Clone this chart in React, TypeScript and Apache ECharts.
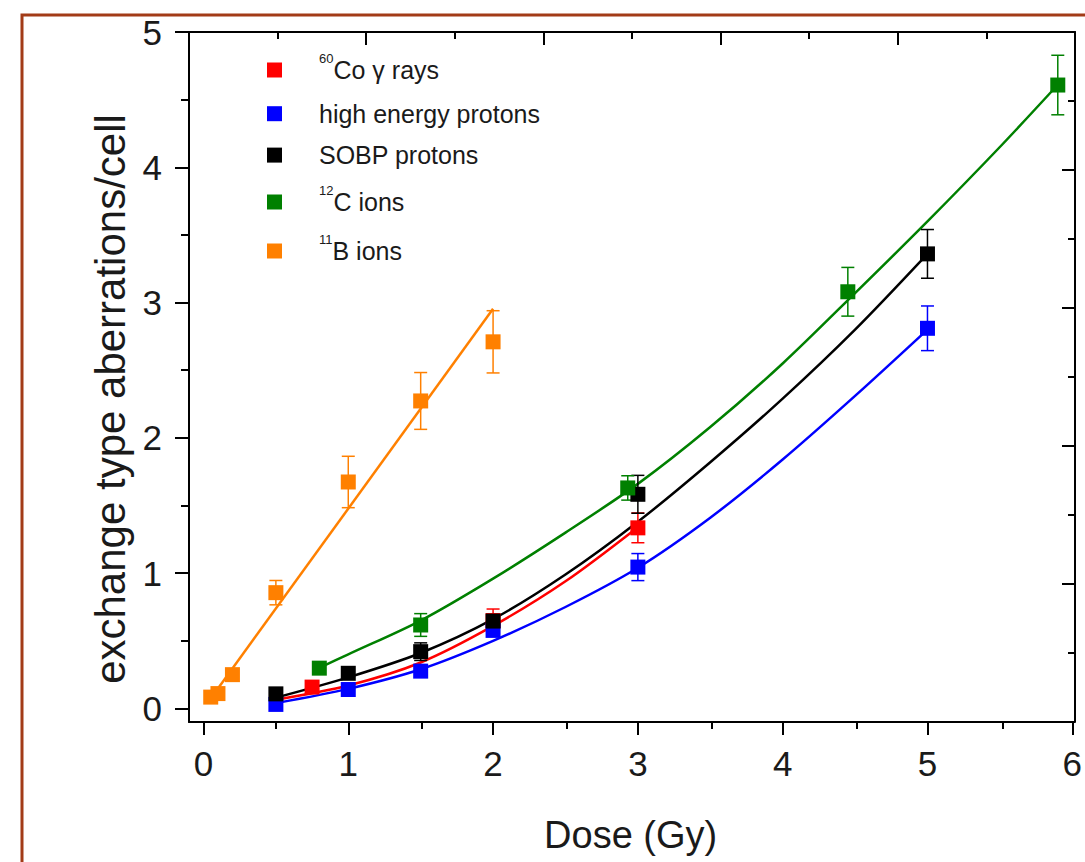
import React, { useEffect, useRef } from "react";
import * as echarts from "echarts";

const FONT = '"Liberation Sans", Arial, Helvetica, sans-serif';
const TEXT = "#1a1a1a";

// axis ticks
const xTicks = [0, 1, 2, 3, 4, 5, 6];
const xMinorTicks = [0.5, 1.5, 2.5, 3.5, 4.5, 5.5];
const yTicks = [0, 1, 2, 3, 4, 5];
const yMinorTicks = [0.5, 1.5, 2.5, 3.5, 4.5];

// 60Co gamma rays
const coDose = [0.75, 2.0, 3.0];
const coValue = [0.158, 0.65, 1.335];
const coError = [0.02, 0.085, 0.11];
const coFitDose = [0.5, 1, 1.5, 2, 2.5, 3];
const coFitValue = [0.065, 0.17, 0.34, 0.61, 0.94, 1.34];

// high energy protons
const hepDose = [0.5, 1, 1.5, 2, 3, 5];
const hepValue = [0.03, 0.14, 0.276, 0.577, 1.045, 2.81];
const hepError = [0.02, 0.02, 0.03, 0.04, 0.1, 0.165];
const hepFitDose = [0.5, 1, 1.5, 2, 2.5, 3, 3.5, 4, 4.5, 5];
const hepFitValue = [0.04, 0.145, 0.29, 0.5, 0.75, 1.04, 1.41, 1.84, 2.31, 2.8];

// SOBP protons
const sobpDose = [0.5, 1, 1.5, 2, 3, 5];
const sobpValue = [0.108, 0.26, 0.42, 0.646, 1.583, 3.36];
const sobpError = [0.02, 0.03, 0.065, 0.05, 0.14, 0.18];
const sobpFitDose = [0.5, 1, 1.5, 2, 2.5, 3, 3.5, 4, 4.5, 5];
const sobpFitValue = [0.08, 0.23, 0.41, 0.66, 0.99, 1.38, 1.82, 2.29, 2.8, 3.36];

// 12C ions
const cDose = [0.8, 1.5, 2.93, 4.45, 5.9];
const cValue = [0.298, 0.617, 1.63, 3.08, 4.608];
const cError = [0.03, 0.084, 0.09, 0.18, 0.22];
const cFitDose = [0.8, 1, 1.5, 2, 2.5, 3, 3.5, 4, 4.5, 5, 5.5, 5.9];
const cFitValue = [0.3, 0.4, 0.65, 0.96, 1.3, 1.66, 2.08, 2.55, 3.07, 3.6, 4.15, 4.61];

// 11B ions
const bDose = [0.05, 0.1, 0.2, 0.5, 1.0, 1.5, 2.0];
const bValue = [0.084, 0.11, 0.25, 0.856, 1.674, 2.273, 2.71];
const bError = [0.02, 0.02, 0.03, 0.09, 0.19, 0.21, 0.23];
const bFitDose = [0.05, 2.0];
const bFitValue = [0.074, 2.954];

const legendNames = ["60Co γ rays", "high energy protons", "SOBP protons", "12C ions", "11B ions"];
const legendRich = [
  "{gap| }{sup|60}{main|Co γ rays}",
  "{gap| }{main|high energy protons}",
  "{gap| }{main|SOBP protons}",
  "{gap| }{sup|12}{main|C ions}",
  "{gap| }{sup|11}{main|B ions}",
];
const legendCenters = [70, 112.6, 154, 202, 251];
const legendHasSup = [true, false, false, true, true];

const groups = [
  { name: legendNames[0], color: "#FF0000", dose: coDose, value: coValue, err: coError, fx: coFitDose, fy: coFitValue },
  { name: legendNames[1], color: "#0000FF", dose: hepDose, value: hepValue, err: hepError, fx: hepFitDose, fy: hepFitValue },
  { name: legendNames[2], color: "#000000", dose: sobpDose, value: sobpValue, err: sobpError, fx: sobpFitDose, fy: sobpFitValue },
  { name: legendNames[3], color: "#008000", dose: cDose, value: cValue, err: cError, fx: cFitDose, fy: cFitValue },
  { name: legendNames[4], color: "#FF8000", dose: bDose, value: bValue, err: bError, fx: bFitDose, fy: bFitValue },
];

export default function App() {
  const ref = useRef<HTMLDivElement>(null);

  useEffect(() => {
    if (!ref.current) return;
    const chart = echarts.init(ref.current, undefined, { renderer: "svg" });

    const black = { color: "#000", width: 2 };
    const gridBox = { left: 189, top: 32, right: 10, bottom: 140, containLabel: false };

    const series: any[] = [];
    groups.forEach((g) => {
      series.push({
        type: "line",
        name: g.name + " fit",
        xAxisIndex: 0,
        yAxisIndex: 0,
        data: g.fx.map((x, i) => [x, g.fy[i]]),
        smooth: 0.3,
        showSymbol: false,
        symbol: "none",
        lineStyle: { color: g.color, width: 2.5 },
        z: 2,
      });
      series.push({
        type: "custom",
        name: g.name + " err",
        xAxisIndex: 0,
        yAxisIndex: 0,
        data: g.dose.map((x, i) => [x, g.value[i], g.err[i]]),
        encode: { x: 0, y: 1 },
        renderItem: (params: any, api: any) => {
          const x = api.value(0);
          const y = api.value(1);
          const e = api.value(2);
          const top = api.coord([x, y + e]);
          const bot = api.coord([x, y - e]);
          const w = 6.5;
          const style = { stroke: g.color, lineWidth: 1.5 };
          return {
            type: "group",
            children: [
              { type: "line", shape: { x1: top[0], y1: top[1], x2: bot[0], y2: bot[1] }, style },
              { type: "line", shape: { x1: top[0] - w, y1: top[1], x2: top[0] + w, y2: top[1] }, style },
              { type: "line", shape: { x1: bot[0] - w, y1: bot[1], x2: bot[0] + w, y2: bot[1] }, style },
            ],
          };
        },
        z: 3,
      });
      series.push({
        type: "scatter",
        name: g.name,
        xAxisIndex: 0,
        yAxisIndex: 0,
        data: g.dose.map((x, i) => [x, g.value[i]]),
        symbol: "rect",
        symbolSize: 15,
        itemStyle: { color: g.color, opacity: 1 },
        z: 4,
      });
    });

    const legends = legendNames.map((n, i) => ({
      data: [{ name: n, icon: "rect", itemStyle: { opacity: 1 } }],
      left: 267,
      top: legendCenters[i] - 18 + (legendHasSup[i] ? 0 : 6.6),
      padding: 0,
      itemWidth: 15,
      itemHeight: 15,
      selectedMode: false,
      formatter: () => legendRich[i],
      textStyle: {
        color: TEXT,
        fontFamily: FONT,
        rich: {
          gap: { width: 32, fontSize: 12 },
          main: { fontSize: 25, lineHeight: 36, fontFamily: FONT, color: TEXT },
          sup: { fontSize: 13, fontFamily: FONT, color: TEXT, verticalAlign: "top" },
        },
      },
    }));

    chart.setOption({
      animation: false,
      backgroundColor: "#ffffff",
      grid: [gridBox, gridBox, gridBox],
      legend: legends,
      xAxis: [
        {
          gridIndex: 0,
          type: "value",
          position: "bottom",
          min: -0.1,
          max: 6,
          axisLine: { show: true, onZero: false, lineStyle: black },
          axisTick: { show: true, customValues: xTicks, length: 13, lineStyle: black },
          axisLabel: { show: true, customValues: xTicks, fontSize: 35, fontFamily: FONT, color: TEXT, margin: 24 },
          splitLine: { show: false },
          name: "Dose (Gy)",
          nameLocation: "middle",
          nameGap: 94,
          nameTextStyle: { fontSize: 38, fontFamily: FONT, color: TEXT },
        },
        {
          gridIndex: 1,
          type: "value",
          position: "bottom",
          min: -0.1,
          max: 6,
          axisLine: { show: false, onZero: false },
          axisTick: { show: true, customValues: xMinorTicks, length: 7, lineStyle: black },
          axisLabel: { show: false },
          splitLine: { show: false },
        },
        {
          gridIndex: 2,
          type: "value",
          position: "top",
          min: 0,
          max: 5,
          interval: 1,
          axisLine: { show: true, onZero: false, lineStyle: black },
          axisTick: { show: true, inside: true, length: 13, lineStyle: black },
          minorTick: { show: true, splitNumber: 2, length: 7, lineStyle: black },
          axisLabel: { show: false },
          splitLine: { show: false },
          minorSplitLine: { show: false },
        },
      ],
      yAxis: [
        {
          gridIndex: 0,
          type: "value",
          position: "left",
          min: -0.1,
          max: 5,
          axisLine: { show: true, onZero: false, lineStyle: black },
          axisTick: { show: true, customValues: yTicks, length: 14, lineStyle: black },
          axisLabel: { show: true, customValues: yTicks, fontSize: 35, fontFamily: FONT, color: TEXT, margin: 27 },
          splitLine: { show: false },
          name: "exchange type aberrations/cell",
          nameLocation: "middle",
          nameRotate: 90,
          nameGap: 40,
          nameTextStyle: { fontSize: 42, fontFamily: FONT, color: TEXT, padding: [0, 44, 0, 0] },
        },
        {
          gridIndex: 1,
          type: "value",
          position: "left",
          min: -0.1,
          max: 5,
          axisLine: { show: false, onZero: false },
          axisTick: { show: true, customValues: yMinorTicks, length: 8, lineStyle: black },
          axisLabel: { show: false },
          splitLine: { show: false },
        },
        {
          gridIndex: 2,
          type: "value",
          position: "right",
          min: 0,
          max: 5,
          interval: 1,
          axisLine: { show: true, onZero: false, lineStyle: black },
          axisTick: { show: true, inside: true, length: 13, lineStyle: black },
          minorTick: { show: true, splitNumber: 2, length: 7, lineStyle: black },
          axisLabel: { show: false },
          splitLine: { show: false },
          minorSplitLine: { show: false },
        },
      ],
      graphic: [
        {
          type: "polyline",
          shape: { points: [[22, 862], [22, 15], [1085, 15]] },
          style: { stroke: "#A23B17", lineWidth: 3, fill: "none" },
          z: 10,
        },
      ],
      series,
    });

    return () => {
      chart.dispose();
    };
  }, []);

  return (
    <div
      ref={ref}
      style={{ position: "absolute", left: 0, top: 0, width: 1085, height: 862, background: "#fff" }}
    />
  );
}
